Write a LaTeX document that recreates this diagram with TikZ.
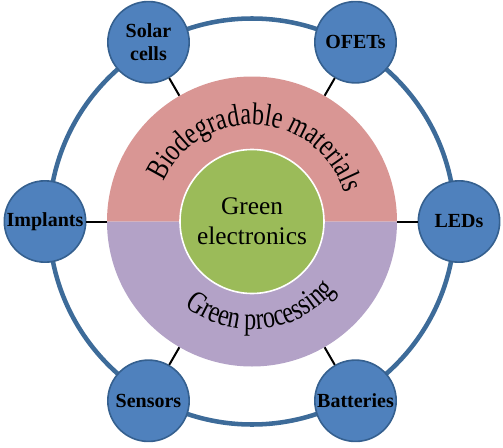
\documentclass[tikz,border=0pt]{standalone}
\usepackage{fontspec}
\setmainfont{Liberation Serif}
\newfontfamily\arcfamily[FakeStretch=0.77]{Liberation Serif}
\usetikzlibrary{decorations.text}

\definecolor{pinkfill}{HTML}{D99694}
\definecolor{purplefill}{HTML}{B3A2C7}
\definecolor{greenfill}{HTML}{9BBB59}
\definecolor{appblue}{HTML}{4F81BD}
\definecolor{appline}{HTML}{35608F}
\definecolor{ringblue}{HTML}{3D6B99}
\newcommand\arcfont{\arcfamily\fontsize{23.5}{23.5}\selectfont}

\begin{document}
\begin{tikzpicture}[
		x=0.75pt, y=0.75pt,
		app/.style = {draw=appline, fill=appblue, circle, line width=1.2pt, minimum size=61pt, inner sep=0pt, align=center, font=\fontsize{15}{17.5}\selectfont\bfseries},
		core/.style = {draw=white, fill=greenfill, circle, line width=1.2pt, minimum size=108pt, inner sep=0pt, align=center, font=\fontsize{19}{22.5}\selectfont},
		link/.style = {line width=1.5pt, black},
		ring/.style = {draw=ringblue, line width=3.4pt}
	]
	\useasboundingbox (-252,-225.5) rectangle (251,221.5);
	\draw[ring] (0,0) circle[radius=203];
	% inner disk, two halves
	\node[circle, minimum size=217.5pt, inner sep=0pt] (mid) at (0,0) {};
	\fill[pinkfill] (-145,0) arc[start angle=180, end angle=0, radius=145] -- cycle;
	\fill[purplefill] (-145,0) arc[start angle=180, end angle=360, radius=145] -- cycle;
	\node[core] (core) at (0,0) {Green\\electronics};
	% applications
	\node[app] (solar) at (120:207) {Solar\\cells};
	\node[app] (ofets) at (60:207) {OFETs};
	\node[app] (leds) at (0:207) {LEDs};
	\node[app] (batt) at (-60:207) {Batteries};
	\node[app] (sens) at (-120:207) {Sensors};
	\node[app] (impl) at (180:207) {Implants};
	\draw[link] (solar) -- (mid);
	\draw[link] (ofets) -- (mid);
	\draw[link] (leds) -- (mid);
	\draw[link] (batt) -- (mid);
	\draw[link] (sens) -- (mid);
	\draw[link] (impl) -- (mid);
	% curved labels
	\path[decorate, decoration={text along path, text align=center, text={|\arcfont|Biodegradable materials}}]
		(176.5:97) arc[start angle=176.5, end angle=-3.5, radius=97];
	\path[decorate, decoration={text along path, text align=center, text={|\arcfont|Green processing}}]
		(186:108) arc[start angle=186, end angle=366, radius=108];
\end{tikzpicture}
\end{document}
